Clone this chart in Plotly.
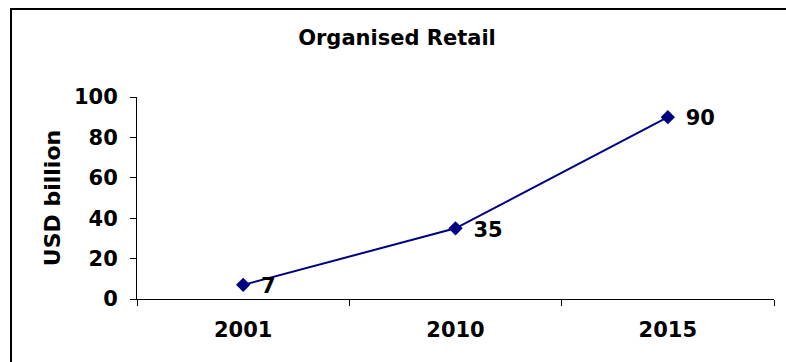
import plotly.graph_objects as go

years = ["2001", "2010", "2015"]
values = [7, 35, 90]
y_ticks = [0, 20, 40, 60, 80, 100]

FONT = "DejaVu Sans"
W, H = 786, 362
L, R, T, B = 137, 12, 97, 63
pw, ph = W - L - R, H - T - B

fig = go.Figure()
fig.add_trace(go.Scatter(
    x=years, y=values, mode="lines+markers",
    line=dict(color="#000080", width=2),
    marker=dict(symbol="diamond", size=11, color="#000080"),
    showlegend=False, hoverinfo="skip",
))
# data labels (invisible large marker pushes the text to the right);
# drawn on a hidden overlay axis offset by a few pixels to centre the text vertically
fig.add_trace(go.Scatter(
    x=years, y=values, mode="markers+text", yaxis="y2",
    text=[f"<b>{v}</b>" for v in values], textposition="middle right",
    textfont=dict(family=FONT, size=21, color="black"),
    marker=dict(size=27, opacity=0, color="white"),
    showlegend=False, hoverinfo="skip", cliponaxis=False,
))

def px_x(x):
    return (x - L) / pw

def px_y(y):
    return (H - B - y) / ph

fig.add_shape(type="rect", xref="paper", yref="paper",
              x0=px_x(11), x1=px_x(820), y0=px_y(400), y1=px_y(9),
              line=dict(color="black", width=2), fillcolor="rgba(0,0,0,0)",
              layer="below")

shift = 3 / ph * 100  # 3px expressed in axis units

fig.update_layout(
    width=W, height=H,
    margin=dict(l=L, r=R, t=T, b=B, pad=0),
    paper_bgcolor="white", plot_bgcolor="white",
    title=dict(text="<b>Organised Retail</b>", xref="paper", x=px_x(397), xanchor="center",
               yref="container", y=1 - 38 / H, yanchor="middle",
               font=dict(family=FONT, size=21, color="black")),
    font=dict(family=FONT, color="black"),
    xaxis=dict(type="category", range=[-0.5, 2.5], tickson="boundaries",
               ticks="outside", ticklen=6, tickcolor="black", tickwidth=1,
               showline=True, linecolor="black", linewidth=1, showgrid=False,
               tickfont=dict(family=FONT, size=21, color="black"),
               ticklabelstandoff=12,
               tickprefix="<b>", ticksuffix="</b>", zeroline=False),
    yaxis=dict(range=[0, 100], tickvals=y_ticks,
               ticktext=[f"<b>{v}</b>" for v in y_ticks],
               ticks="outside", ticklen=6, tickcolor="black", tickwidth=1,
               showline=True, linecolor="black", linewidth=1, showgrid=False,
               zeroline=False, ticklabelstandoff=8,
               tickfont=dict(family=FONT, size=21, color="black"),
               title=dict(text="<b>USD billion</b>", standoff=7,
                          font=dict(family=FONT, size=22, color="black"))),
    yaxis2=dict(overlaying="y", range=[shift, 100 + shift], visible=False,
                showgrid=False, zeroline=False),
)

fig.write_html("out.html")
